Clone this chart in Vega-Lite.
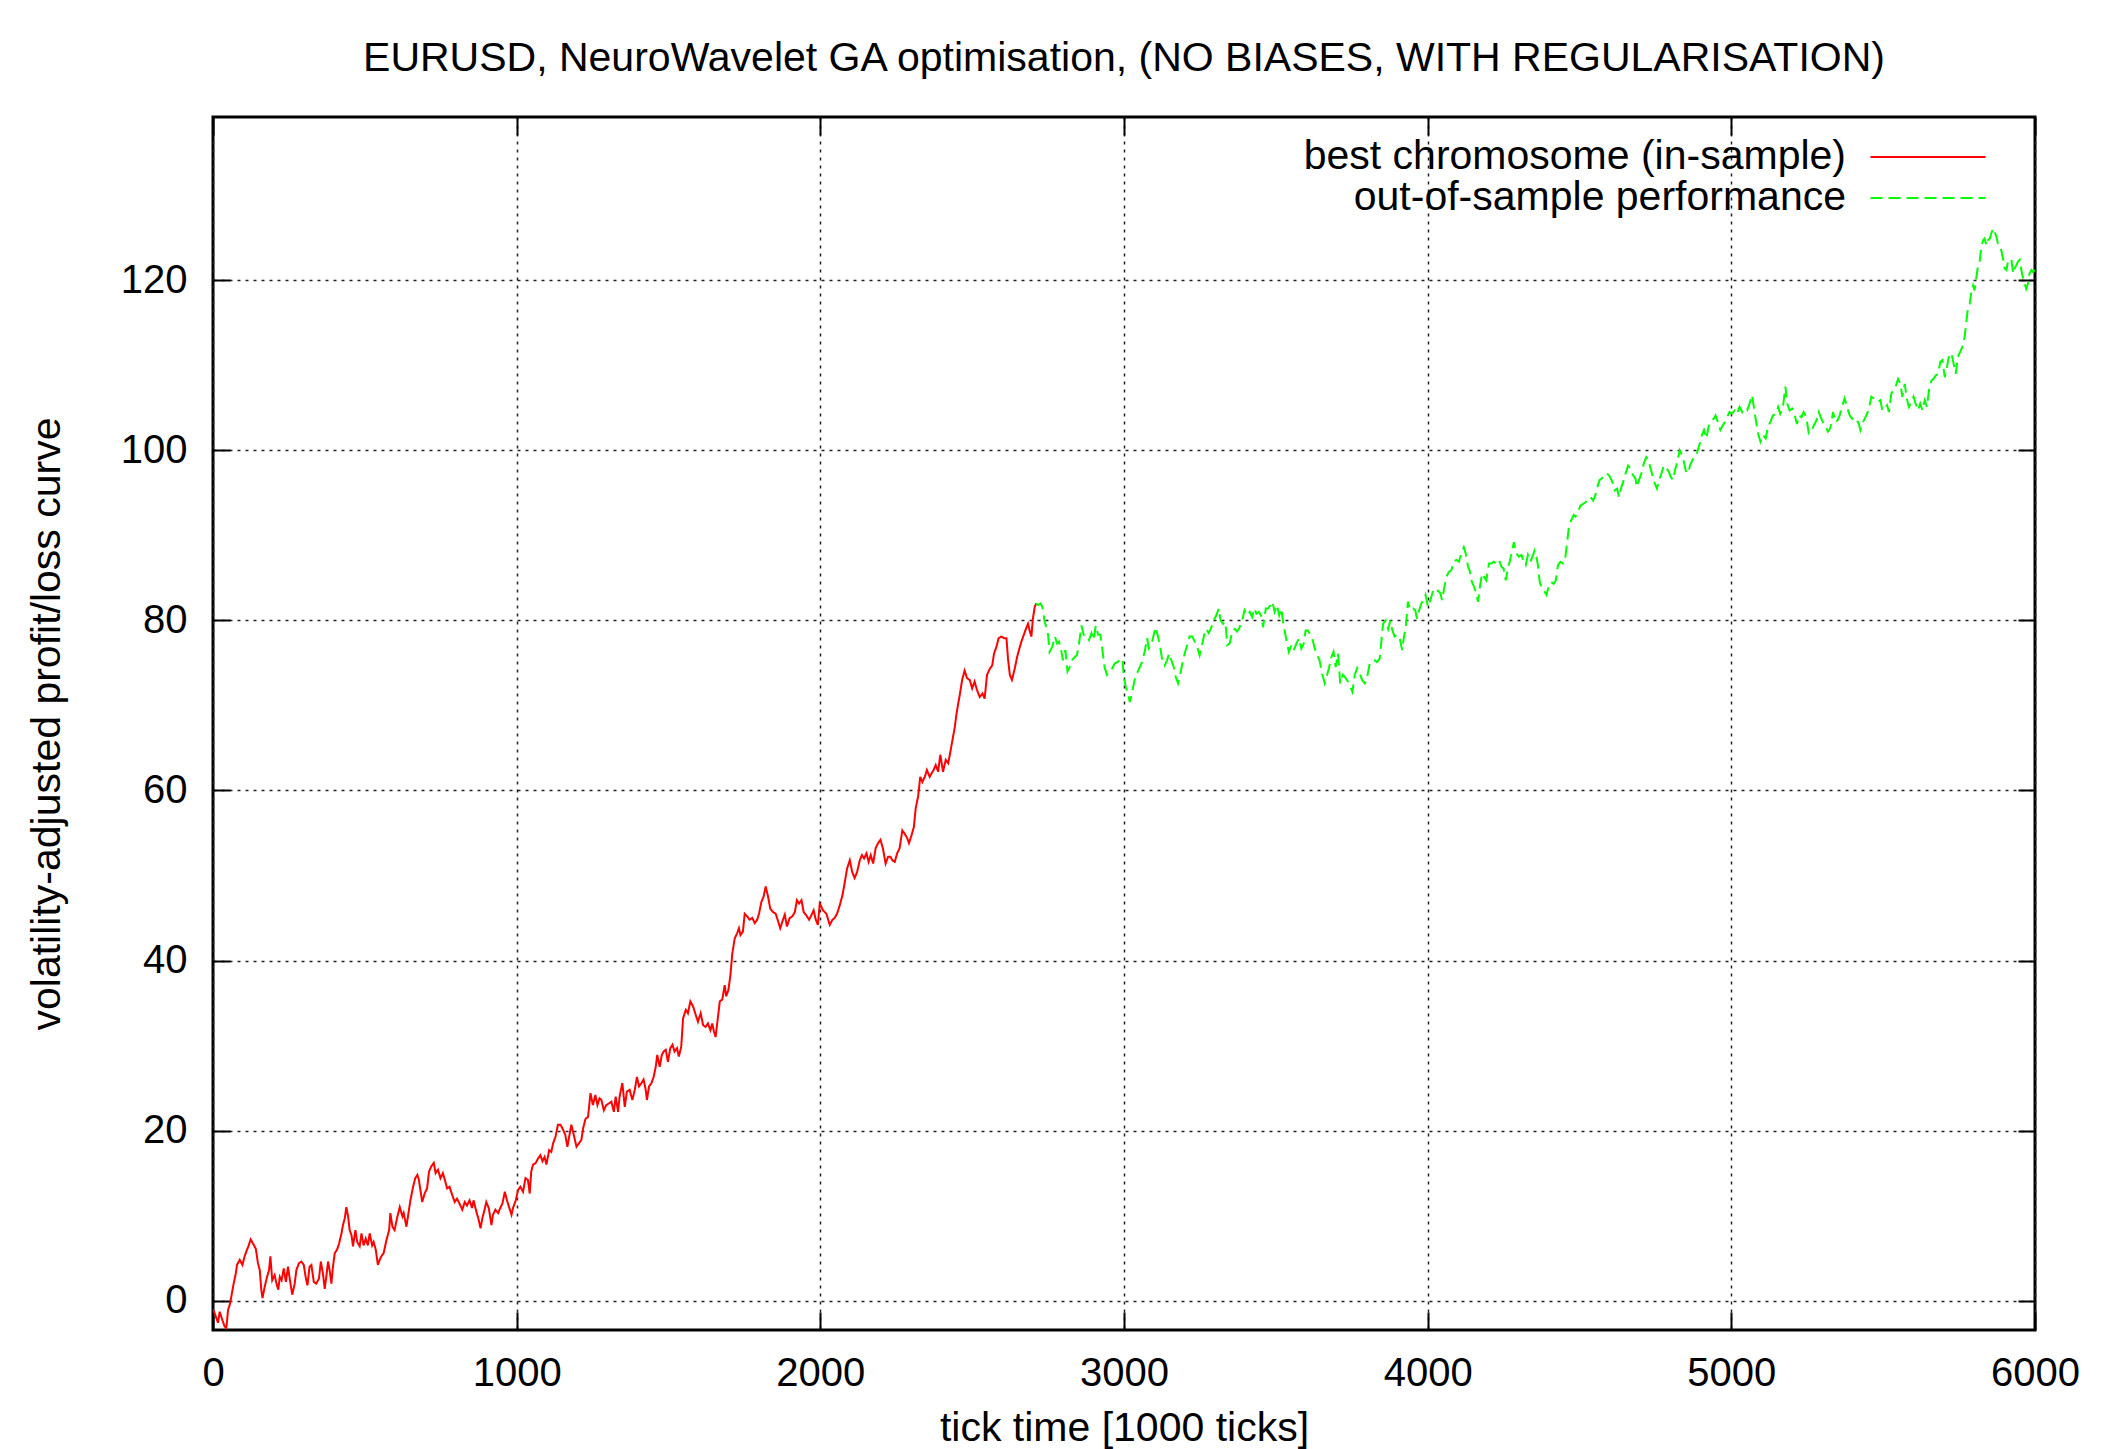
{
"$schema":"https://vega.github.io/schema/vega-lite/v6.json",
"width":1822,"height":1213,
"autosize":{"type":"none"},
"padding":{"left":213,"top":117,"right":72,"bottom":119},
"background":"white",
"title":{"text":"EURUSD, NeuroWavelet GA optimisation, (NO BIASES, WITH REGULARISATION)","font":"Liberation Sans","fontSize":41,"fontWeight":"normal","color":"black","anchor":"middle","frame":"group","baseline":"alphabetic","offset":4},
"config":{"view":{"stroke":"black","strokeWidth":3},"font":"Liberation Sans"},
"data":{"values":[
{"x":0,"y":-1.0,"s":"a"},{"x":5.6,"y":-1.5,"s":"a"},{"x":16.6,"y":-2.6,"s":"a"},{"x":22,"y":-1.3,"s":"a"},{"x":31,"y":-2.3,"s":"a"},{"x":38.5,"y":-3.05,"s":"a"},{"x":44,"y":-3.2,"s":"a"},{"x":49.5,"y":-1.1,"s":"a"},{"x":55,"y":-0.5,"s":"a"},{"x":60.5,"y":0.5,"s":"a"},{"x":68,"y":2.0,"s":"a"},{"x":75,"y":3.2,"s":"a"},{"x":79,"y":4.2,"s":"a"},{"x":88,"y":4.8,"s":"a"},{"x":97,"y":4.2,"s":"a"},{"x":104,"y":5.2,"s":"a"},{"x":110,"y":5.8,"s":"a"},{"x":117.6,"y":6.5,"s":"a"},{"x":124,"y":7.2,"s":"a"},{"x":132,"y":6.7,"s":"a"},{"x":141,"y":6.1,"s":"a"},{"x":148,"y":4.4,"s":"a"},{"x":154,"y":3.6,"s":"a"},{"x":159,"y":1.3,"s":"a"},{"x":163,"y":0.3,"s":"a"},{"x":170,"y":1.6,"s":"a"},{"x":178,"y":2.8,"s":"a"},{"x":184.5,"y":3.6,"s":"a"},{"x":189,"y":5.2,"s":"a"},{"x":195,"y":2.4,"s":"a"},{"x":203,"y":3.0,"s":"a"},{"x":209,"y":2.0,"s":"a"},{"x":215,"y":1.3,"s":"a"},{"x":220,"y":2.8,"s":"a"},{"x":226,"y":2.4,"s":"a"},{"x":233,"y":3.8,"s":"a"},{"x":240,"y":2.2,"s":"a"},{"x":247,"y":4.0,"s":"a"},{"x":252.5,"y":2.6,"s":"a"},{"x":261,"y":0.7,"s":"a"},{"x":269,"y":2.0,"s":"a"},{"x":274.5,"y":3.6,"s":"a"},{"x":283,"y":4.4,"s":"a"},{"x":291,"y":4.6,"s":"a"},{"x":299,"y":4.2,"s":"a"},{"x":305,"y":2.8,"s":"a"},{"x":311,"y":1.8,"s":"a"},{"x":318,"y":4.0,"s":"a"},{"x":324,"y":4.2,"s":"a"},{"x":332,"y":2.2,"s":"a"},{"x":340,"y":2.0,"s":"a"},{"x":349,"y":2.6,"s":"a"},{"x":355,"y":4.6,"s":"a"},{"x":362,"y":3.2,"s":"a"},{"x":368,"y":1.4,"s":"a"},{"x":373,"y":2.8,"s":"a"},{"x":379,"y":4.6,"s":"a"},{"x":384,"y":3.6,"s":"a"},{"x":390,"y":2.0,"s":"a"},{"x":395,"y":4.0,"s":"a"},{"x":401,"y":5.6,"s":"a"},{"x":408.5,"y":6.0,"s":"a"},{"x":415,"y":6.7,"s":"a"},{"x":423,"y":7.9,"s":"a"},{"x":428,"y":8.9,"s":"a"},{"x":434,"y":9.7,"s":"a"},{"x":439,"y":11.0,"s":"a"},{"x":445,"y":9.9,"s":"a"},{"x":450,"y":8.3,"s":"a"},{"x":456,"y":7.7,"s":"a"},{"x":461,"y":6.4,"s":"a"},{"x":469,"y":8.3,"s":"a"},{"x":475,"y":6.9,"s":"a"},{"x":483,"y":6.4,"s":"a"},{"x":489,"y":7.9,"s":"a"},{"x":496,"y":6.5,"s":"a"},{"x":503,"y":7.3,"s":"a"},{"x":510,"y":6.5,"s":"a"},{"x":516,"y":7.9,"s":"a"},{"x":524,"y":6.5,"s":"a"},{"x":529,"y":6.9,"s":"a"},{"x":536,"y":6.0,"s":"a"},{"x":543,"y":4.2,"s":"a"},{"x":549,"y":4.8,"s":"a"},{"x":554,"y":5.2,"s":"a"},{"x":562,"y":5.6,"s":"a"},{"x":571,"y":7.1,"s":"a"},{"x":580,"y":8.3,"s":"a"},{"x":584,"y":10.3,"s":"a"},{"x":591,"y":8.7,"s":"a"},{"x":598,"y":8.3,"s":"a"},{"x":606,"y":9.7,"s":"a"},{"x":615,"y":11.0,"s":"a"},{"x":624,"y":9.9,"s":"a"},{"x":628,"y":10.3,"s":"a"},{"x":637,"y":8.7,"s":"a"},{"x":642,"y":9.9,"s":"a"},{"x":650,"y":11.8,"s":"a"},{"x":659,"y":13.4,"s":"a"},{"x":666,"y":14.4,"s":"a"},{"x":673,"y":14.8,"s":"a"},{"x":678,"y":14.2,"s":"a"},{"x":683,"y":13.0,"s":"a"},{"x":689,"y":11.6,"s":"a"},{"x":697,"y":12.6,"s":"a"},{"x":705,"y":13.2,"s":"a"},{"x":711.5,"y":15.2,"s":"a"},{"x":719,"y":15.8,"s":"a"},{"x":727,"y":16.2,"s":"a"},{"x":733,"y":15.0,"s":"a"},{"x":741,"y":15.4,"s":"a"},{"x":749,"y":14.4,"s":"a"},{"x":757,"y":15.0,"s":"a"},{"x":765,"y":14.0,"s":"a"},{"x":771,"y":13.2,"s":"a"},{"x":779,"y":13.4,"s":"a"},{"x":788,"y":12.4,"s":"a"},{"x":796,"y":11.6,"s":"a"},{"x":803.5,"y":12.0,"s":"a"},{"x":812,"y":11.4,"s":"a"},{"x":821,"y":10.7,"s":"a"},{"x":829,"y":11.6,"s":"a"},{"x":836.5,"y":11.2,"s":"a"},{"x":845,"y":11.8,"s":"a"},{"x":853,"y":10.9,"s":"a"},{"x":858,"y":11.8,"s":"a"},{"x":867,"y":10.5,"s":"a"},{"x":875,"y":9.5,"s":"a"},{"x":881,"y":8.5,"s":"a"},{"x":887,"y":9.7,"s":"a"},{"x":893,"y":10.5,"s":"a"},{"x":900,"y":11.6,"s":"a"},{"x":908,"y":10.9,"s":"a"},{"x":917,"y":8.9,"s":"a"},{"x":922,"y":10.1,"s":"a"},{"x":930,"y":10.7,"s":"a"},{"x":939,"y":10.3,"s":"a"},{"x":946,"y":10.9,"s":"a"},{"x":953,"y":11.4,"s":"a"},{"x":961,"y":12.8,"s":"a"},{"x":968,"y":11.8,"s":"a"},{"x":975,"y":11.0,"s":"a"},{"x":983,"y":10.1,"s":"a"},{"x":988,"y":10.9,"s":"a"},{"x":997,"y":11.8,"s":"a"},{"x":1004.5,"y":13.0,"s":"a"},{"x":1012,"y":13.4,"s":"a"},{"x":1021,"y":12.8,"s":"a"},{"x":1029,"y":14.4,"s":"a"},{"x":1037,"y":14.2,"s":"a"},{"x":1043,"y":12.6,"s":"a"},
{"x":1048,"y":15.2,"s":"a"},{"x":1054,"y":16.0,"s":"a"},{"x":1063,"y":16.2,"s":"a"},{"x":1070,"y":16.7,"s":"a"},{"x":1078,"y":17.1,"s":"a"},{"x":1085,"y":16.4,"s":"a"},{"x":1092,"y":16.9,"s":"a"},{"x":1098,"y":16.0,"s":"a"},{"x":1107,"y":17.7,"s":"a"},{"x":1114,"y":17.5,"s":"a"},{"x":1120,"y":18.5,"s":"a"},{"x":1128,"y":19.3,"s":"a"},{"x":1136,"y":20.7,"s":"a"},{"x":1144,"y":20.7,"s":"a"},{"x":1153,"y":20.1,"s":"a"},{"x":1160,"y":19.5,"s":"a"},{"x":1167,"y":18.1,"s":"a"},{"x":1175,"y":19.7,"s":"a"},{"x":1180,"y":20.7,"s":"a"},{"x":1188,"y":19.5,"s":"a"},{"x":1197,"y":18.1,"s":"a"},{"x":1205,"y":18.5,"s":"a"},{"x":1213,"y":18.9,"s":"a"},{"x":1219,"y":20.3,"s":"a"},{"x":1227,"y":21.4,"s":"a"},{"x":1235,"y":21.6,"s":"a"},{"x":1243,"y":24.4,"s":"a"},{"x":1251,"y":23.0,"s":"a"},{"x":1259,"y":24.2,"s":"a"},{"x":1266,"y":23.0,"s":"a"},{"x":1273,"y":23.8,"s":"a"},{"x":1279,"y":23.6,"s":"a"},{"x":1287,"y":22.4,"s":"a"},{"x":1295,"y":23.0,"s":"a"},{"x":1304,"y":23.2,"s":"a"},{"x":1312,"y":23.4,"s":"a"},{"x":1320,"y":22.2,"s":"a"},{"x":1326,"y":24.0,"s":"a"},{"x":1334,"y":22.2,"s":"a"},{"x":1339,"y":24.0,"s":"a"},{"x":1348,"y":25.6,"s":"a"},{"x":1356,"y":22.8,"s":"a"},{"x":1363,"y":24.6,"s":"a"},{"x":1372,"y":24.8,"s":"a"},{"x":1381,"y":23.6,"s":"a"},{"x":1389,"y":24.8,"s":"a"},{"x":1396,"y":26.3,"s":"a"},{"x":1403,"y":25.2,"s":"a"},{"x":1411,"y":25.6,"s":"a"},{"x":1418,"y":26.0,"s":"a"},{"x":1425,"y":24.8,"s":"a"},{"x":1429,"y":23.6,"s":"a"},{"x":1436,"y":25.2,"s":"a"},{"x":1444,"y":25.6,"s":"a"},{"x":1451,"y":26.3,"s":"a"},{"x":1458,"y":27.5,"s":"a"},{"x":1463,"y":28.9,"s":"a"},{"x":1471,"y":27.5,"s":"a"},{"x":1478,"y":28.9,"s":"a"},{"x":1484,"y":29.3,"s":"a"},{"x":1491,"y":29.5,"s":"a"},{"x":1498,"y":28.1,"s":"a"},{"x":1506,"y":29.7,"s":"a"},{"x":1513,"y":30.1,"s":"a"},{"x":1520,"y":29.3,"s":"a"},{"x":1528,"y":29.7,"s":"a"},{"x":1534,"y":28.7,"s":"a"},{"x":1542,"y":29.9,"s":"a"},{"x":1548,"y":33.2,"s":"a"},{"x":1557,"y":34.2,"s":"a"},{"x":1564,"y":33.8,"s":"a"},{"x":1572,"y":35.2,"s":"a"},{"x":1581,"y":34.6,"s":"a"},{"x":1588,"y":33.8,"s":"a"},{"x":1597,"y":32.8,"s":"a"},{"x":1606,"y":33.8,"s":"a"},{"x":1614,"y":32.4,"s":"a"},{"x":1622,"y":32.2,"s":"a"},{"x":1630,"y":32.6,"s":"a"},{"x":1638,"y":31.8,"s":"a"},{"x":1644,"y":32.6,"s":"a"},{"x":1650,"y":31.6,"s":"a"},{"x":1655,"y":31.0,"s":"a"},{"x":1663,"y":33.4,"s":"a"},{"x":1669,"y":35.2,"s":"a"},{"x":1677,"y":35.4,"s":"a"},{"x":1685,"y":37.1,"s":"a"},{"x":1690,"y":35.8,"s":"a"},{"x":1697,"y":36.5,"s":"a"},{"x":1704,"y":38.3,"s":"a"},{"x":1710,"y":40.8,"s":"a"},{"x":1718,"y":42.6,"s":"a"},{"x":1726,"y":43.2,"s":"a"},{"x":1732,"y":43.8,"s":"a"},{"x":1737,"y":43.0,"s":"a"},{"x":1745,"y":43.4,"s":"a"},{"x":1751,"y":45.5,"s":"a"},{"x":1759,"y":45.2,"s":"a"},{"x":1767,"y":44.8,"s":"a"},{"x":1776,"y":45.0,"s":"a"},{"x":1784,"y":44.4,"s":"a"},{"x":1792,"y":44.8,"s":"a"},{"x":1798,"y":45.5,"s":"a"},{"x":1806,"y":46.9,"s":"a"},{"x":1813,"y":47.5,"s":"a"},{"x":1820,"y":48.7,"s":"a"},{"x":1828,"y":47.5,"s":"a"},{"x":1835,"y":46.1,"s":"a"},{"x":1844,"y":45.7,"s":"a"},{"x":1853,"y":45.5,"s":"a"},{"x":1861,"y":44.6,"s":"a"},{"x":1868,"y":43.8,"s":"a"},{"x":1877,"y":44.8,"s":"a"},{"x":1883,"y":45.4,"s":"a"},{"x":1890,"y":44.0,"s":"a"},{"x":1899,"y":45.0,"s":"a"},{"x":1908,"y":45.2,"s":"a"},{"x":1916,"y":45.7,"s":"a"},{"x":1923,"y":47.1,"s":"a"},{"x":1930,"y":46.7,"s":"a"},{"x":1938,"y":47.1,"s":"a"},{"x":1945,"y":45.7,"s":"a"},{"x":1954,"y":45.3,"s":"a"},{"x":1963,"y":44.8,"s":"a"},{"x":1970,"y":45.3,"s":"a"},{"x":1978,"y":45.9,"s":"a"},{"x":1985,"y":44.8,"s":"a"},{"x":1992,"y":44.2,"s":"a"},
{"x":1998,"y":46.7,"s":"a"},{"x":2009,"y":45.9,"s":"a"},{"x":2020,"y":45.5,"s":"a"},{"x":2031,"y":44.2,"s":"a"},{"x":2040,"y":44.8,"s":"a"},{"x":2047,"y":45.0,"s":"a"},{"x":2055,"y":45.5,"s":"a"},{"x":2064,"y":46.5,"s":"a"},{"x":2073,"y":47.7,"s":"a"},{"x":2080,"y":49.1,"s":"a"},{"x":2088,"y":50.8,"s":"a"},{"x":2097,"y":51.8,"s":"a"},{"x":2105,"y":50.4,"s":"a"},{"x":2113,"y":49.7,"s":"a"},{"x":2121,"y":50.4,"s":"a"},{"x":2130,"y":51.8,"s":"a"},{"x":2137,"y":52.4,"s":"a"},{"x":2144,"y":52.0,"s":"a"},{"x":2152,"y":52.6,"s":"a"},{"x":2159,"y":51.6,"s":"a"},{"x":2166,"y":52.4,"s":"a"},{"x":2174,"y":51.4,"s":"a"},{"x":2182,"y":53.2,"s":"a"},{"x":2190,"y":53.8,"s":"a"},{"x":2198,"y":54.2,"s":"a"},{"x":2206,"y":53.2,"s":"a"},{"x":2215,"y":51.4,"s":"a"},{"x":2223,"y":52.2,"s":"a"},{"x":2231,"y":52.2,"s":"a"},{"x":2237,"y":51.8,"s":"a"},{"x":2245,"y":51.6,"s":"a"},{"x":2253,"y":52.6,"s":"a"},{"x":2261,"y":53.2,"s":"a"},{"x":2270,"y":55.3,"s":"a"},{"x":2278,"y":54.9,"s":"a"},{"x":2286,"y":54.4,"s":"a"},{"x":2292,"y":53.8,"s":"a"},{"x":2300,"y":54.7,"s":"a"},{"x":2308,"y":55.7,"s":"a"},{"x":2314,"y":57.9,"s":"a"},{"x":2322,"y":59.3,"s":"a"},{"x":2329,"y":61.6,"s":"a"},{"x":2336,"y":61.0,"s":"a"},{"x":2344,"y":61.6,"s":"a"},{"x":2351,"y":62.4,"s":"a"},{"x":2360,"y":61.6,"s":"a"},{"x":2366,"y":62.0,"s":"a"},{"x":2373,"y":62.4,"s":"a"},{"x":2380,"y":63.0,"s":"a"},{"x":2388,"y":62.2,"s":"a"},{"x":2395,"y":64.2,"s":"a"},{"x":2404,"y":62.2,"s":"a"},{"x":2413,"y":63.6,"s":"a"},{"x":2421,"y":63.2,"s":"a"},{"x":2428,"y":64.5,"s":"a"},{"x":2435,"y":65.9,"s":"a"},{"x":2443,"y":67.5,"s":"a"},{"x":2448,"y":68.9,"s":"a"},{"x":2453,"y":70.0,"s":"a"},{"x":2459,"y":71.2,"s":"a"},{"x":2467,"y":73.0,"s":"a"},{"x":2475,"y":74.1,"s":"a"},{"x":2483,"y":73.2,"s":"a"},{"x":2492,"y":73.0,"s":"a"},{"x":2500,"y":72.0,"s":"a"},{"x":2508,"y":72.8,"s":"a"},{"x":2516,"y":71.8,"s":"a"},{"x":2525,"y":71.0,"s":"a"},{"x":2534,"y":71.4,"s":"a"},{"x":2541,"y":70.8,"s":"a"},{"x":2549,"y":73.6,"s":"a"},{"x":2558,"y":74.3,"s":"a"},{"x":2566,"y":74.7,"s":"a"},{"x":2572,"y":76.1,"s":"a"},{"x":2580,"y":76.9,"s":"a"},{"x":2587,"y":77.9,"s":"a"},{"x":2596,"y":78.1,"s":"a"},{"x":2605,"y":77.9,"s":"a"},{"x":2613,"y":77.9,"s":"a"},{"x":2618,"y":75.5,"s":"a"},{"x":2624,"y":73.6,"s":"a"},{"x":2631,"y":73.0,"s":"a"},{"x":2640,"y":74.3,"s":"a"},{"x":2648,"y":75.7,"s":"a"},{"x":2654,"y":76.5,"s":"a"},{"x":2662,"y":77.5,"s":"a"},{"x":2670,"y":78.3,"s":"a"},{"x":2676,"y":78.9,"s":"a"},{"x":2684,"y":79.6,"s":"a"},{"x":2690,"y":78.7,"s":"a"},{"x":2695,"y":78.1,"s":"a"},{"x":2700,"y":80.2,"s":"a"},{"x":2706,"y":81.6,"s":"a"},{"x":2711,"y":82.0,"s":"a"},
{"x":2711,"y":82.0,"s":"b"},{"x":2717,"y":81.8,"s":"b"},{"x":2725,"y":82.0,"s":"b"},{"x":2731,"y":81.6,"s":"b"},{"x":2739,"y":79.8,"s":"b"},{"x":2744,"y":79.2,"s":"b"},{"x":2750,"y":78.3,"s":"b"},{"x":2755,"y":76.3,"s":"b"},{"x":2764,"y":76.9,"s":"b"},{"x":2772,"y":78.1,"s":"b"},{"x":2780,"y":77.3,"s":"b"},{"x":2786,"y":77.5,"s":"b"},{"x":2794,"y":76.3,"s":"b"},{"x":2799,"y":75.3,"s":"b"},{"x":2807,"y":76.5,"s":"b"},{"x":2814,"y":74.0,"s":"b"},{"x":2821,"y":74.5,"s":"b"},{"x":2829,"y":75.3,"s":"b"},{"x":2838,"y":75.7,"s":"b"},{"x":2845,"y":75.9,"s":"b"},{"x":2852,"y":77.3,"s":"b"},{"x":2860,"y":79.4,"s":"b"},{"x":2867,"y":78.3,"s":"b"},{"x":2876,"y":78.3,"s":"b"},{"x":2885,"y":77.7,"s":"b"},{"x":2893,"y":78.5,"s":"b"},{"x":2900,"y":77.7,"s":"b"},{"x":2907,"y":79.4,"s":"b"},{"x":2915,"y":78.3,"s":"b"},{"x":2922,"y":78.3,"s":"b"},{"x":2929,"y":76.5,"s":"b"},{"x":2936,"y":74.5,"s":"b"},{"x":2944,"y":73.6,"s":"b"},{"x":2953,"y":74.0,"s":"b"},{"x":2962,"y":74.4,"s":"b"},{"x":2969,"y":74.9,"s":"b"},{"x":2977,"y":75.1,"s":"b"},{"x":2986,"y":75.3,"s":"b"},{"x":2995,"y":75.5,"s":"b"},{"x":2999,"y":73.4,"s":"b"},{"x":3006,"y":72.2,"s":"b"},{"x":3013,"y":71.4,"s":"b"},{"x":3019,"y":70.4,"s":"b"},{"x":3027,"y":71.6,"s":"b"},{"x":3035,"y":73.0,"s":"b"},{"x":3043,"y":73.8,"s":"b"},{"x":3052,"y":74.5,"s":"b"},{"x":3059,"y":75.1,"s":"b"},{"x":3068,"y":76.3,"s":"b"},{"x":3076,"y":77.9,"s":"b"},{"x":3082,"y":76.7,"s":"b"},{"x":3090,"y":77.1,"s":"b"},{"x":3098,"y":78.3,"s":"b"},{"x":3104,"y":79.2,"s":"b"},{"x":3112,"y":78.1,"s":"b"},{"x":3120,"y":76.7,"s":"b"},{"x":3126,"y":75.3,"s":"b"},{"x":3134,"y":74.7,"s":"b"},{"x":3142,"y":75.3,"s":"b"},{"x":3148,"y":76.1,"s":"b"},{"x":3156,"y":75.3,"s":"b"},{"x":3164,"y":74.5,"s":"b"},{"x":3170,"y":73.4,"s":"b"},{"x":3178,"y":72.6,"s":"b"},{"x":3186,"y":73.8,"s":"b"},{"x":3192,"y":74.9,"s":"b"},{"x":3200,"y":76.1,"s":"b"},{"x":3208,"y":77.1,"s":"b"},{"x":3216,"y":78.1,"s":"b"},{"x":3225,"y":78.1,"s":"b"},{"x":3233,"y":77.5,"s":"b"},{"x":3241,"y":76.9,"s":"b"},{"x":3249,"y":75.9,"s":"b"},{"x":3257,"y":77.1,"s":"b"},{"x":3264,"y":78.3,"s":"b"},{"x":3271,"y":79.0,"s":"b"},{"x":3279,"y":78.5,"s":"b"},{"x":3288,"y":79.2,"s":"b"},{"x":3295,"y":80.0,"s":"b"},{"x":3304,"y":80.6,"s":"b"},{"x":3312,"y":81.4,"s":"b"},{"x":3318,"y":80.0,"s":"b"},{"x":3326,"y":79.6,"s":"b"},{"x":3334,"y":79.8,"s":"b"},{"x":3340,"y":77.1,"s":"b"},{"x":3348,"y":77.3,"s":"b"},{"x":3357,"y":78.8,"s":"b"},{"x":3365,"y":79.0,"s":"b"},{"x":3372,"y":78.7,"s":"b"},{"x":3381,"y":79.2,"s":"b"},{"x":3389,"y":80.0,"s":"b"},{"x":3397,"y":81.2,"s":"b"},{"x":3405,"y":80.6,"s":"b"},{"x":3414,"y":81.0,"s":"b"},{"x":3422,"y":80.4,"s":"b"},{"x":3429,"y":81.4,"s":"b"},{"x":3436,"y":80.8,"s":"b"},{"x":3444,"y":81.0,"s":"b"},{"x":3451,"y":80.6,"s":"b"},{"x":3458,"y":79.2,"s":"b"},{"x":3467,"y":81.4,"s":"b"},{"x":3474,"y":81.4,"s":"b"},{"x":3482,"y":81.8,"s":"b"},{"x":3489,"y":82.2,"s":"b"},{"x":3496,"y":81.0,"s":"b"},{"x":3504,"y":81.8,"s":"b"},{"x":3511,"y":80.6,"s":"b"},{"x":3518,"y":81.4,"s":"b"},{"x":3524,"y":79.8,"s":"b"},{"x":3529,"y":78.8,"s":"b"},{"x":3537,"y":77.3,"s":"b"},{"x":3543,"y":76.3,"s":"b"},{"x":3551,"y":77.1,"s":"b"},{"x":3559,"y":76.5,"s":"b"},{"x":3568,"y":77.3,"s":"b"},{"x":3576,"y":77.9,"s":"b"},{"x":3584,"y":76.7,"s":"b"},{"x":3592,"y":77.3,"s":"b"},{"x":3598,"y":78.8,"s":"b"},{"x":3606,"y":78.8,"s":"b"},{"x":3614,"y":78.3,"s":"b"},{"x":3620,"y":77.9,"s":"b"},{"x":3628,"y":76.7,"s":"b"},{"x":3636,"y":75.9,"s":"b"},{"x":3644,"y":75.3,"s":"b"},{"x":3652,"y":73.8,"s":"b"},{"x":3661,"y":72.6,"s":"b"},{"x":3669,"y":73.6,"s":"b"},{"x":3675,"y":74.4,"s":"b"},{"x":3683,"y":75.7,"s":"b"},{"x":3690,"y":76.3,"s":"b"},{"x":3697,"y":74.5,"s":"b"},{"x":3705,"y":76.1,"s":"b"},{"x":3712,"y":72.6,"s":"b"},{"x":3721,"y":73.6,"s":"b"},{"x":3730,"y":73.2,"s":"b"},{"x":3738,"y":72.8,"s":"b"},{"x":3745,"y":72.2,"s":"b"},{"x":3752,"y":71.6,"s":"b"},{"x":3760,"y":73.6,"s":"b"},{"x":3768,"y":74.4,"s":"b"},{"x":3776,"y":73.8,"s":"b"},{"x":3784,"y":73.0,"s":"b"},{"x":3793,"y":72.6,"s":"b"},{"x":3800,"y":73.2,"s":"b"},{"x":3809,"y":74.9,"s":"b"},{"x":3817,"y":74.9,"s":"b"},{"x":3826,"y":75.3,"s":"b"},{"x":3833,"y":75.1,"s":"b"},{"x":3842,"y":75.5,"s":"b"},{"x":3848,"y":77.7,"s":"b"},{"x":3853,"y":79.6,"s":"b"},{"x":3862,"y":80.0,"s":"b"},{"x":3870,"y":79.0,"s":"b"},{"x":3877,"y":80.0,"s":"b"},{"x":3884,"y":78.8,"s":"b"},{"x":3891,"y":78.1,"s":"b"},{"x":3899,"y":78.3,"s":"b"},{"x":3908,"y":77.9,"s":"b"},{"x":3916,"y":76.5,"s":"b"},{"x":3922,"y":78.1,"s":"b"},
{"x":3928,"y":79.2,"s":"b"},{"x":3935,"y":82.2,"s":"b"},{"x":3943,"y":81.2,"s":"b"},{"x":3952,"y":81.4,"s":"b"},{"x":3959,"y":81.2,"s":"b"},{"x":3965,"y":80.2,"s":"b"},{"x":3972,"y":81.2,"s":"b"},{"x":3979,"y":82.0,"s":"b"},{"x":3987,"y":82.4,"s":"b"},{"x":3993,"y":83.0,"s":"b"},{"x":4001,"y":81.6,"s":"b"},{"x":4009,"y":82.4,"s":"b"},{"x":4018,"y":83.5,"s":"b"},{"x":4025,"y":83.2,"s":"b"},{"x":4034,"y":83.5,"s":"b"},{"x":4042,"y":83.2,"s":"b"},{"x":4047,"y":82.4,"s":"b"},{"x":4054,"y":83.7,"s":"b"},{"x":4061,"y":85.1,"s":"b"},{"x":4070,"y":85.7,"s":"b"},{"x":4078,"y":85.9,"s":"b"},{"x":4086,"y":86.9,"s":"b"},{"x":4094,"y":87.1,"s":"b"},{"x":4103,"y":86.9,"s":"b"},{"x":4111,"y":87.9,"s":"b"},{"x":4119,"y":88.6,"s":"b"},{"x":4125,"y":87.9,"s":"b"},{"x":4133,"y":86.3,"s":"b"},{"x":4138,"y":85.9,"s":"b"},{"x":4144,"y":84.7,"s":"b"},{"x":4151,"y":84.1,"s":"b"},{"x":4158,"y":83.4,"s":"b"},{"x":4166,"y":82.2,"s":"b"},{"x":4171,"y":83.7,"s":"b"},{"x":4179,"y":85.5,"s":"b"},{"x":4186,"y":85.1,"s":"b"},{"x":4193,"y":84.7,"s":"b"},{"x":4202,"y":86.7,"s":"b"},{"x":4210,"y":86.7,"s":"b"},{"x":4217,"y":86.9,"s":"b"},{"x":4226,"y":86.7,"s":"b"},{"x":4235,"y":87.1,"s":"b"},{"x":4243,"y":86.3,"s":"b"},{"x":4250,"y":86.1,"s":"b"},{"x":4257,"y":84.7,"s":"b"},{"x":4265,"y":86.3,"s":"b"},{"x":4270,"y":86.9,"s":"b"},{"x":4278,"y":88.2,"s":"b"},{"x":4284,"y":89.2,"s":"b"},{"x":4292,"y":87.9,"s":"b"},{"x":4300,"y":87.5,"s":"b"},{"x":4309,"y":87.7,"s":"b"},{"x":4316,"y":86.9,"s":"b"},{"x":4323,"y":86.5,"s":"b"},{"x":4330,"y":87.7,"s":"b"},{"x":4338,"y":86.9,"s":"b"},{"x":4345,"y":87.5,"s":"b"},{"x":4352,"y":88.2,"s":"b"},{"x":4358,"y":87.5,"s":"b"},{"x":4363,"y":86.5,"s":"b"},{"x":4369,"y":84.5,"s":"b"},{"x":4377,"y":83.7,"s":"b"},{"x":4385,"y":83.4,"s":"b"},{"x":4391,"y":83.0,"s":"b"},{"x":4398,"y":83.9,"s":"b"},{"x":4407,"y":84.5,"s":"b"},{"x":4415,"y":84.3,"s":"b"},{"x":4422,"y":84.7,"s":"b"},{"x":4429,"y":86.5,"s":"b"},{"x":4437,"y":86.9,"s":"b"},{"x":4446,"y":86.7,"s":"b"},{"x":4453,"y":87.3,"s":"b"},{"x":4460,"y":89.4,"s":"b"},{"x":4465,"y":91.0,"s":"b"},{"x":4473,"y":91.8,"s":"b"},{"x":4481,"y":92.4,"s":"b"},{"x":4487,"y":92.2,"s":"b"},{"x":4495,"y":92.8,"s":"b"},{"x":4503,"y":93.5,"s":"b"},{"x":4512,"y":93.7,"s":"b"},{"x":4520,"y":93.9,"s":"b"},{"x":4528,"y":94.3,"s":"b"},{"x":4536,"y":94.5,"s":"b"},{"x":4545,"y":94.1,"s":"b"},{"x":4552,"y":94.7,"s":"b"},{"x":4559,"y":95.7,"s":"b"},{"x":4566,"y":96.5,"s":"b"},{"x":4574,"y":96.7,"s":"b"},{"x":4581,"y":97.1,"s":"b"},{"x":4588,"y":97.3,"s":"b"},{"x":4596,"y":97.1,"s":"b"},{"x":4603,"y":96.7,"s":"b"},{"x":4610,"y":96.1,"s":"b"},{"x":4616,"y":95.3,"s":"b"},{"x":4624,"y":95.5,"s":"b"},{"x":4630,"y":94.5,"s":"b"},{"x":4638,"y":95.7,"s":"b"},{"x":4646,"y":96.5,"s":"b"},{"x":4652,"y":97.3,"s":"b"},{"x":4660,"y":98.2,"s":"b"},{"x":4667,"y":97.9,"s":"b"},{"x":4676,"y":97.1,"s":"b"},{"x":4684,"y":96.7,"s":"b"},{"x":4689,"y":95.7,"s":"b"},{"x":4696,"y":96.5,"s":"b"},{"x":4704,"y":97.3,"s":"b"},{"x":4711,"y":98.4,"s":"b"},{"x":4720,"y":99.2,"s":"b"},{"x":4728,"y":98.8,"s":"b"},{"x":4733,"y":98.0,"s":"b"},{"x":4740,"y":97.1,"s":"b"},{"x":4748,"y":96.1,"s":"b"},{"x":4755,"y":95.5,"s":"b"},{"x":4762,"y":96.5,"s":"b"},{"x":4770,"y":97.3,"s":"b"},{"x":4777,"y":98.2,"s":"b"},{"x":4786,"y":97.9,"s":"b"},{"x":4794,"y":97.5,"s":"b"},{"x":4800,"y":96.9,"s":"b"},{"x":4808,"y":96.5,"s":"b"},{"x":4816,"y":97.9,"s":"b"},{"x":4822,"y":98.6,"s":"b"},{"x":4830,"y":100.0,"s":"b"},{"x":4838,"y":99.4,"s":"b"},{"x":4844,"y":98.6,"s":"b"},{"x":4852,"y":97.3,"s":"b"},{"x":4860,"y":97.7,"s":"b"},{"x":4866,"y":98.4,"s":"b"},{"x":4874,"y":99.0,"s":"b"},{"x":4882,"y":99.2,"s":"b"},{"x":4888,"y":99.8,"s":"b"},{"x":4896,"y":100.8,"s":"b"},{"x":4903,"y":101.8,"s":"b"},{"x":4910,"y":102.4,"s":"b"},{"x":4918,"y":101.4,"s":"b"},{"x":4925,"y":102.8,"s":"b"},{"x":4934,"y":103.5,"s":"b"},{"x":4942,"y":103.7,"s":"b"},{"x":4948,"y":104.1,"s":"b"},{"x":4956,"y":103.3,"s":"b"},{"x":4964,"y":102.4,"s":"b"},{"x":4970,"y":102.8,"s":"b"},{"x":4978,"y":103.3,"s":"b"},{"x":4986,"y":103.9,"s":"b"},{"x":4994,"y":104.5,"s":"b"},{"x":5002,"y":104.3,"s":"b"},{"x":5011,"y":104.7,"s":"b"},{"x":5019,"y":104.3,"s":"b"},{"x":5027,"y":105.1,"s":"b"},{"x":5036,"y":104.5,"s":"b"},{"x":5044,"y":104.9,"s":"b"},{"x":5052,"y":104.7,"s":"b"},{"x":5060,"y":105.5,"s":"b"},{"x":5068,"y":106.5,"s":"b"},{"x":5075,"y":104.9,"s":"b"},{"x":5080,"y":103.7,"s":"b"},{"x":5088,"y":102.0,"s":"b"},{"x":5096,"y":101.0,"s":"b"},{"x":5104,"y":101.8,"s":"b"},{"x":5113,"y":101.4,"s":"b"},{"x":5121,"y":102.8,"s":"b"},{"x":5128,"y":103.3,"s":"b"},{"x":5137,"y":104.1,"s":"b"},{"x":5146,"y":104.3,"s":"b"},{"x":5154,"y":105.1,"s":"b"},{"x":5161,"y":104.3,"s":"b"},{"x":5170,"y":105.1,"s":"b"},{"x":5178,"y":107.5,"s":"b"},{"x":5184,"y":105.5,"s":"b"},{"x":5192,"y":104.7,"s":"b"},{"x":5200,"y":104.9,"s":"b"},{"x":5209,"y":104.1,"s":"b"},{"x":5216,"y":103.1,"s":"b"},{"x":5223,"y":104.1,"s":"b"},{"x":5231,"y":103.9,"s":"b"},{"x":5238,"y":104.5,"s":"b"},{"x":5247,"y":103.9,"s":"b"},{"x":5255,"y":102.0,"s":"b"},{"x":5264,"y":102.2,"s":"b"},{"x":5271,"y":102.9,"s":"b"},{"x":5280,"y":103.5,"s":"b"},{"x":5288,"y":104.5,"s":"b"},{"x":5294,"y":103.9,"s":"b"},{"x":5302,"y":103.3,"s":"b"},{"x":5310,"y":102.8,"s":"b"},{"x":5318,"y":102.2,"s":"b"},{"x":5326,"y":102.6,"s":"b"},{"x":5335,"y":104.5,"s":"b"},{"x":5343,"y":103.3,"s":"b"},{"x":5349,"y":103.5,"s":"b"},{"x":5357,"y":104.1,"s":"b"},{"x":5364,"y":105.1,"s":"b"},{"x":5373,"y":106.1,"s":"b"},{"x":5381,"y":105.1,"s":"b"},
{"x":5390,"y":104.1,"s":"b"},{"x":5398,"y":103.7,"s":"b"},{"x":5406,"y":103.9,"s":"b"},{"x":5414,"y":103.5,"s":"b"},{"x":5420,"y":103.1,"s":"b"},{"x":5425,"y":102.4,"s":"b"},{"x":5431,"y":103.1,"s":"b"},{"x":5439,"y":103.7,"s":"b"},{"x":5447,"y":104.3,"s":"b"},{"x":5453,"y":104.9,"s":"b"},{"x":5461,"y":106.3,"s":"b"},{"x":5469,"y":106.1,"s":"b"},{"x":5475,"y":105.9,"s":"b"},{"x":5483,"y":105.7,"s":"b"},{"x":5491,"y":105.9,"s":"b"},{"x":5497,"y":104.7,"s":"b"},{"x":5505,"y":104.9,"s":"b"},{"x":5513,"y":105.3,"s":"b"},{"x":5519,"y":104.5,"s":"b"},{"x":5527,"y":106.7,"s":"b"},{"x":5535,"y":107.1,"s":"b"},{"x":5541,"y":107.5,"s":"b"},{"x":5549,"y":108.4,"s":"b"},{"x":5557,"y":107.8,"s":"b"},{"x":5563,"y":106.3,"s":"b"},{"x":5571,"y":107.8,"s":"b"},{"x":5579,"y":105.9,"s":"b"},{"x":5585,"y":105.1,"s":"b"},{"x":5593,"y":105.7,"s":"b"},{"x":5600,"y":106.3,"s":"b"},{"x":5607,"y":105.5,"s":"b"},{"x":5615,"y":104.7,"s":"b"},{"x":5622,"y":105.5,"s":"b"},{"x":5629,"y":104.7,"s":"b"},{"x":5637,"y":105.9,"s":"b"},{"x":5644,"y":105.1,"s":"b"},{"x":5651,"y":107.1,"s":"b"},{"x":5659,"y":108.2,"s":"b"},{"x":5666,"y":108.4,"s":"b"},{"x":5673,"y":108.8,"s":"b"},{"x":5681,"y":109.0,"s":"b"},{"x":5688,"y":110.4,"s":"b"},{"x":5695,"y":110.6,"s":"b"},{"x":5703,"y":108.6,"s":"b"},{"x":5710,"y":109.8,"s":"b"},{"x":5717,"y":111.2,"s":"b"},{"x":5725,"y":111.4,"s":"b"},{"x":5732,"y":110.2,"s":"b"},{"x":5739,"y":109.0,"s":"b"},{"x":5746,"y":111.0,"s":"b"},{"x":5754,"y":111.6,"s":"b"},{"x":5761,"y":112.2,"s":"b"},{"x":5768,"y":113.3,"s":"b"},{"x":5774,"y":115.1,"s":"b"},{"x":5779,"y":116.7,"s":"b"},{"x":5785,"y":117.2,"s":"b"},{"x":5790,"y":118.6,"s":"b"},{"x":5796,"y":119.4,"s":"b"},{"x":5801,"y":118.8,"s":"b"},{"x":5807,"y":120.4,"s":"b"},{"x":5812,"y":121.6,"s":"b"},{"x":5818,"y":122.3,"s":"b"},{"x":5823,"y":123.9,"s":"b"},{"x":5829,"y":124.7,"s":"b"},{"x":5834,"y":124.9,"s":"b"},{"x":5840,"y":124.1,"s":"b"},{"x":5845,"y":124.7,"s":"b"},{"x":5851,"y":124.9,"s":"b"},{"x":5856,"y":125.5,"s":"b"},{"x":5862,"y":126.1,"s":"b"},{"x":5867,"y":125.7,"s":"b"},{"x":5873,"y":125.1,"s":"b"},{"x":5878,"y":124.3,"s":"b"},{"x":5884,"y":124.1,"s":"b"},{"x":5889,"y":123.5,"s":"b"},{"x":5895,"y":122.5,"s":"b"},{"x":5900,"y":121.4,"s":"b"},{"x":5906,"y":121.2,"s":"b"},{"x":5911,"y":122.2,"s":"b"},{"x":5917,"y":122.4,"s":"b"},{"x":5922,"y":122.5,"s":"b"},{"x":5928,"y":120.8,"s":"b"},{"x":5933,"y":121.4,"s":"b"},{"x":5939,"y":121.8,"s":"b"},{"x":5944,"y":122.2,"s":"b"},{"x":5950,"y":122.4,"s":"b"},{"x":5955,"y":121.2,"s":"b"},{"x":5961,"y":120.2,"s":"b"},{"x":5966,"y":119.6,"s":"b"},{"x":5971,"y":119.0,"s":"b"},{"x":5977,"y":119.6,"s":"b"},{"x":5982,"y":120.8,"s":"b"},{"x":5988,"y":121.2,"s":"b"},{"x":5993,"y":121.0,"s":"b"},{"x":6000,"y":121.2,"s":"b"}
]},
"layer":[
{"mark":{"type":"line","opacity":0},
 "encoding":{
  "x":{"field":"x","type":"quantitative","scale":{"domain":[0,6000],"nice":false,"zero":false},
       "axis":{"orient":"top","values":[0,1000,2000,3000,4000,5000,6000],"labels":false,"grid":false,"domain":false,"tickSize":-18,"tickWidth":2,"tickColor":"black","title":null}},
  "y":{"field":"y","type":"quantitative","scale":{"domain":[-3.45,139.2],"nice":false,"zero":false},
       "axis":{"orient":"right","values":[0,20,40,60,80,100,120],"labels":false,"grid":false,"domain":false,"tickSize":-17,"tickWidth":2,"tickColor":"black","title":null}},
  "detail":{"field":"s"}
 }},
{"mark":{"type":"line","strokeWidth":2,"clip":true},
 "encoding":{
  "x":{"field":"x","type":"quantitative","scale":{"domain":[0,6000],"nice":false,"zero":false},
       "axis":{"orient":"bottom","values":[0,1000,2000,3000,4000,5000,6000],"format":"d","grid":true,"gridColor":"#222","gridDash":[3,5],"gridWidth":1.5,"domain":false,"tickSize":-18,"tickWidth":2,"tickColor":"black","labelFont":"Liberation Sans","labelFontSize":40,"labelColor":"black","labelBaseline":"alphabetic","labelPadding":73,"labelDx":5,"labelFlush":false,"labelOverlap":false,
               "title":"tick time [1000 ticks]","titleFont":"Liberation Sans","titleFontSize":41,"titleFontWeight":"normal","titleColor":"black","titleBaseline":"alphabetic","titleY":110}},
  "y":{"field":"y","type":"quantitative","scale":{"domain":[-3.45,139.2],"nice":false,"zero":false},
       "axis":{"orient":"left","values":[0,20,40,60,80,100,120],"format":"d","grid":true,"gridColor":"#222","gridDash":[3,5],"gridWidth":1.5,"domain":false,"tickSize":-17,"tickWidth":2,"tickColor":"black","labelFont":"Liberation Sans","labelFontSize":40,"labelColor":"black","labelBaseline":"middle","labelPadding":43,"labelOverlap":false,
               "title":"volatility-adjusted profit/loss curve","titleFont":"Liberation Sans","titleFontSize":41,"titleFontWeight":"normal","titleColor":"black","titleBaseline":"alphabetic","titleX":-154}},
  "color":{"field":"s","type":"nominal","scale":{"domain":["a","b"],"range":["#ff0000","#00ff00"]},
       "legend":{"orient":"none","legendX":1694,"legendY":19,"title":null,"symbolType":"M-2.875,0H2.875","symbolSize":1600,"symbolStrokeWidth":2,"labelAlign":"right","labelOffset":-103,"labelFont":"Liberation Sans","labelFontSize":41,"labelColor":"black","labelLimit":0,"padding":0,"rowPadding":0,"labelExpr":"datum.value == 'a' ? 'best chromosome (in-sample)' : 'out-of-sample performance'"}},
  "strokeDash":{"field":"s","type":"nominal","scale":{"domain":["a","b"],"range":[[1,0],[12,6]]},
       "legend":{"orient":"none","legendX":1694,"legendY":19,"title":null,"symbolType":"M-2.875,0H2.875","symbolSize":1600,"symbolStrokeWidth":2,"labelAlign":"right","labelOffset":-103,"labelFont":"Liberation Sans","labelFontSize":41,"labelColor":"black","labelLimit":0,"padding":0,"rowPadding":0,"labelExpr":"datum.value == 'a' ? 'best chromosome (in-sample)' : 'out-of-sample performance'"}}
 }}
],
"resolve":{"axis":{"x":"independent","y":"independent"}}
}
